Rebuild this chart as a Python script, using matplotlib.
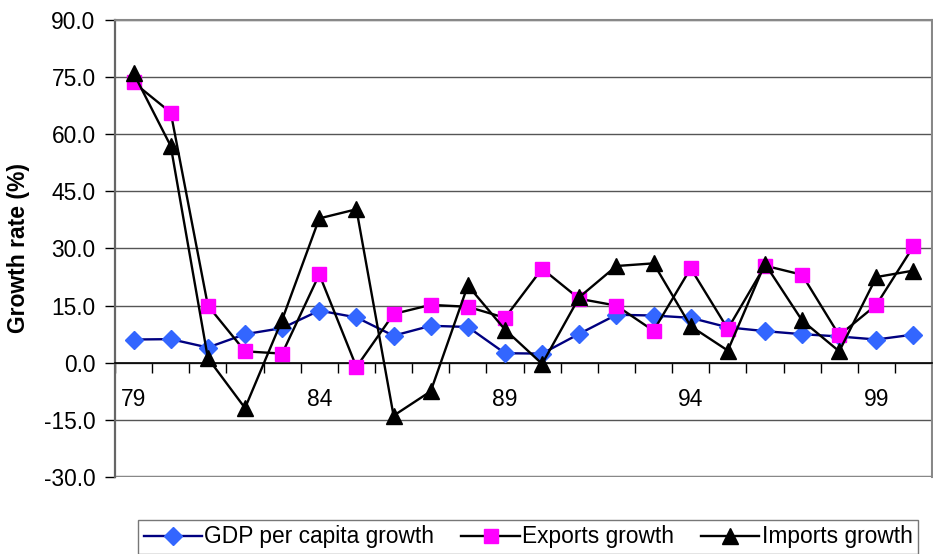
import matplotlib
matplotlib.use('Agg')
import matplotlib.pyplot as plt

years = ['79', '80', '81', '82', '83', '84', '85', '86', '87', '88', '89',
         '90', '91', '92', '93', '94', '95', '96', '97', '98', '99', '00']
gdp_growth = [6.1, 6.2, 4.0, 7.5, 9.1, 13.7, 11.9, 7.1, 9.7, 9.4, 2.5,
              2.4, 7.6, 12.6, 12.4, 11.8, 9.3, 8.3, 7.5, 6.9, 6.1, 7.4]
exports_growth = [73.6, 65.7, 15.0, 3.0, 2.4, 23.2, -1.1, 12.8, 15.2, 14.7, 11.8,
                  24.7, 16.8, 15.0, 8.4, 24.8, 8.9, 25.5, 23.1, 7.2, 15.2, 30.6]
imports_growth = [76.0, 56.9, 1.2, -11.9, 11.3, 37.9, 40.3, -13.9, -7.5, 20.3, 8.7,
                  -0.3, 17.2, 25.4, 26.1, 9.6, 3.2, 26.0, 11.1, 3.0, 22.5, 24.2]
shown_years = ['79', '84', '89', '94', '99']

plt.rcParams['font.family'] = ['Liberation Sans', 'DejaVu Sans']

fig = plt.figure(figsize=(9.33, 5.54), dpi=100)
ax = fig.add_axes([0.1233, 0.139, 0.8757, 0.8249])

x = list(range(len(years)))
ax.plot(x, gdp_growth, color='#000080', lw=1.7, marker='D', ms=9,
        mfc='#3366FF', mec='#3366FF', label='GDP per capita growth', zorder=3)
ax.plot(x, exports_growth, color='black', lw=1.7, marker='s', ms=10.5,
        mfc='#FF00FF', mec='#FF00FF', label='Exports growth', zorder=4)
ax.plot(x, imports_growth, color='black', lw=1.7, marker='^', ms=12,
        mfc='black', mec='black', label='Imports growth', zorder=5)

ax.set_xlim(-0.5, len(years) - 0.5)
ax.set_ylim(-30, 90)
ax.set_yticks(range(-30, 91, 15))
ax.set_yticklabels([f'{v:.1f}' for v in range(-30, 91, 15)], fontsize=16.4)
ax.yaxis.grid(True, color='#555555', lw=1)
ax.set_axisbelow(True)
ax.tick_params(axis='y', length=7, width=1, direction='out', pad=7)

# category axis crosses at zero; tick marks sit between categories
ax.spines['bottom'].set_position(('data', 0))
ax.spines['bottom'].set_linewidth(1.2)
ax.spines['left'].set_color('#666666')
ax.spines['left'].set_linewidth(1.6)
for side in ('top', 'right'):
    ax.spines[side].set_color('#888888')
    ax.spines[side].set_linewidth(1.5)
ax.set_xticks([i - 0.5 for i in range(len(years) + 1)])
ax.set_xticklabels([])
ax.tick_params(axis='x', which='major', length=7, width=1, direction='out')
label_pos = [years.index(y) for y in shown_years]
ax.set_xticks(label_pos, minor=True)
ax.set_xticklabels(shown_years, minor=True, fontsize=16.4)
ax.tick_params(axis='x', which='minor', length=0, pad=18)
ax.axhline(-30, color='#888888', lw=2.5, zorder=1)

ax.set_ylabel('Growth rate (%)', fontsize=16.5, fontweight='bold')
ax.yaxis.set_label_coords(-0.1035, 0.5)

leg = fig.legend(loc='center', bbox_to_anchor=(0.566, 0.0307), ncol=3,
                 frameon=True, fancybox=False, edgecolor='#555555',
                 handlelength=2.55, handletextpad=0.1, columnspacing=1.2,
                 borderpad=0.25, prop={'size': 16.4})
leg.get_frame().set_linewidth(1)

fig.savefig('out.png', dpi=100)
